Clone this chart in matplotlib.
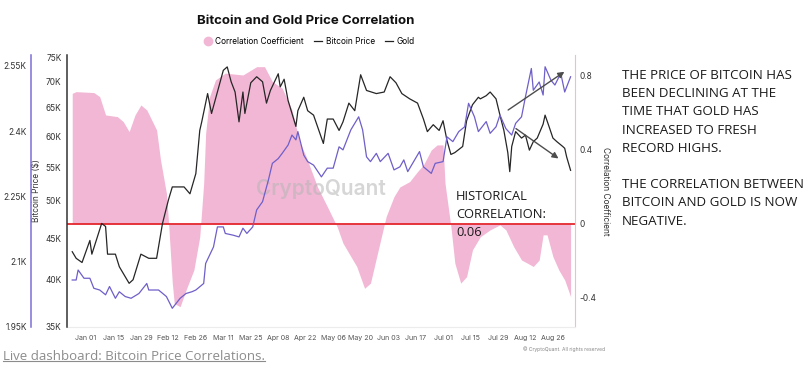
import matplotlib
matplotlib.use("Agg")
import matplotlib.pyplot as plt
import pandas as pd
from matplotlib.lines import Line2D
from matplotlib.ticker import FixedLocator, FuncFormatter, NullLocator
import matplotlib.dates as mdates

# Bitcoin price ($)
btc_dates = ["2023-12-25", "2023-12-27", "2023-12-30", "2024-01-03", "2024-01-04", "2024-01-09",
             "2024-01-11", "2024-01-12", "2024-01-16", "2024-01-18", "2024-01-23", "2024-01-25",
             "2024-01-29", "2024-02-02", "2024-02-06", "2024-02-09", "2024-02-12", "2024-02-14",
             "2024-02-20", "2024-02-23", "2024-02-26", "2024-02-28", "2024-02-29", "2024-03-03",
             "2024-03-05", "2024-03-11", "2024-03-13", "2024-03-15", "2024-03-17", "2024-03-19",
             "2024-03-21", "2024-03-22", "2024-03-25", "2024-03-28", "2024-03-31", "2024-04-02",
             "2024-04-04", "2024-04-08", "2024-04-09", "2024-04-11", "2024-04-13", "2024-04-17",
             "2024-04-18", "2024-04-21", "2024-04-23", "2024-04-26", "2024-05-01", "2024-05-03",
             "2024-05-06", "2024-05-09", "2024-05-11", "2024-05-14", "2024-05-17", "2024-05-20",
             "2024-05-23", "2024-05-28", "2024-06-01", "2024-06-04", "2024-06-07", "2024-06-10",
             "2024-06-14", "2024-06-18", "2024-06-21", "2024-06-23", "2024-06-26", "2024-06-29",
             "2024-07-01", "2024-07-03", "2024-07-05", "2024-07-07", "2024-07-11", "2024-07-13",
             "2024-07-16", "2024-07-19", "2024-07-20", "2024-07-23", "2024-07-25", "2024-07-28",
             "2024-07-30", "2024-08-01", "2024-08-03", "2024-08-04", "2024-08-05", "2024-08-07",
             "2024-08-10", "2024-08-12", "2024-08-14", "2024-08-16", "2024-08-18", "2024-08-21",
             "2024-08-22", "2024-08-24", "2024-08-26", "2024-08-28", "2024-08-31", "2024-09-01",
             "2024-09-02", "2024-09-04"]
btc_price = [43300, 42500, 42000, 44700, 43000, 46900,
             46500, 43000, 43000, 41500, 39600, 40000,
             43000, 42500, 42500, 46900, 50100, 52000,
             52000, 51000, 54000, 61000, 62500, 67700,
             64000, 72300, 73000, 70000, 68000, 62500,
             68000, 64000, 69800, 71000, 70000, 65900,
             68300, 71600, 69000, 70500, 66400, 61700,
             64500, 67000, 64500, 63700, 58800, 63000,
             63000, 61000, 62500, 65900, 64500, 71400,
             68300, 67700, 68000, 71000, 69800, 67700,
             66700, 65900, 63000, 60800, 62000, 61000,
             62700, 59300, 57000, 57300, 58300, 62700,
             65600, 67000, 66700, 67300, 68000, 66700,
             63700, 61000, 57300, 54300, 58300, 60800,
             59700, 60200, 57700, 59100, 59700, 62100,
             63700, 61700, 59700, 59100, 58300, 58000,
             56600, 54500]

# Gold price ($)
gold_dates = ["2023-12-25", "2023-12-27", "2023-12-28", "2023-12-31", "2024-01-03", "2024-01-05",
              "2024-01-08", "2024-01-11", "2024-01-13", "2024-01-16", "2024-01-18", "2024-01-21",
              "2024-01-24", "2024-01-28", "2024-02-01", "2024-02-02", "2024-02-07", "2024-02-11",
              "2024-02-14", "2024-02-18", "2024-02-21", "2024-02-24", "2024-02-26", "2024-03-01",
              "2024-03-02", "2024-03-06", "2024-03-08", "2024-03-11", "2024-03-12", "2024-03-16",
              "2024-03-19", "2024-03-21", "2024-03-23", "2024-03-26", "2024-03-28", "2024-03-31",
              "2024-04-03", "2024-04-05", "2024-04-08", "2024-04-10", "2024-04-13", "2024-04-15",
              "2024-04-17", "2024-04-18", "2024-04-21", "2024-04-23", "2024-04-26", "2024-04-30",
              "2024-05-03", "2024-05-06", "2024-05-09", "2024-05-11", "2024-05-15", "2024-05-19",
              "2024-05-21", "2024-05-23", "2024-05-25", "2024-05-28", "2024-05-30", "2024-06-03",
              "2024-06-06", "2024-06-09", "2024-06-11", "2024-06-13", "2024-06-16", "2024-06-19",
              "2024-06-21", "2024-06-25", "2024-06-27", "2024-07-01", "2024-07-03", "2024-07-06",
              "2024-07-09", "2024-07-12", "2024-07-14", "2024-07-17", "2024-07-19", "2024-07-23",
              "2024-07-25", "2024-07-28", "2024-07-30", "2024-08-02", "2024-08-05", "2024-08-07",
              "2024-08-10", "2024-08-12", "2024-08-15", "2024-08-16", "2024-08-19", "2024-08-21",
              "2024-08-22", "2024-08-25", "2024-08-27", "2024-08-30", "2024-09-01", "2024-09-04"]
gold_price = [2058, 2058, 2081, 2062, 2062, 2039,
              2035, 2024, 2043, 2016, 2031, 2020,
              2016, 2027, 2050, 2035, 2035, 2020,
              1993, 2016, 2027, 2031, 2035, 2050,
              2096, 2134, 2180, 2180, 2165, 2161,
              2157, 2177, 2165, 2180, 2219, 2238,
              2288, 2326, 2337, 2349, 2368, 2391,
              2380, 2399, 2345, 2330, 2322, 2295,
              2315, 2315, 2364, 2357, 2403, 2433,
              2403, 2341, 2330, 2349, 2330, 2349,
              2311, 2318, 2334, 2307, 2330, 2353,
              2318, 2303, 2326, 2330, 2387, 2376,
              2399, 2410, 2464, 2433, 2399, 2422,
              2395, 2410, 2437, 2406, 2391, 2418,
              2433, 2479, 2544, 2494, 2513, 2483,
              2548, 2517, 2506, 2533, 2490, 2525]

# Correlation coefficient
corr_dates = ["2023-12-25", "2023-12-27", "2024-01-05", "2024-01-08", "2024-01-11", "2024-01-17",
              "2024-01-20", "2024-01-23", "2024-01-26", "2024-01-29", "2024-02-01", "2024-02-06",
              "2024-02-08", "2024-02-11", "2024-02-12", "2024-02-14", "2024-02-15", "2024-02-18",
              "2024-02-21", "2024-02-25", "2024-02-28", "2024-03-01", "2024-03-02", "2024-03-04",
              "2024-03-07", "2024-03-12", "2024-03-21", "2024-03-28", "2024-04-01", "2024-04-05",
              "2024-04-10", "2024-04-15", "2024-04-19", "2024-04-22", "2024-04-28", "2024-05-03",
              "2024-05-08", "2024-05-11", "2024-05-18", "2024-05-22", "2024-05-25", "2024-05-29",
              "2024-06-02", "2024-06-06", "2024-06-09", "2024-06-14", "2024-06-18", "2024-06-21",
              "2024-06-25", "2024-06-28", "2024-07-01", "2024-07-02", "2024-07-05", "2024-07-07",
              "2024-07-10", "2024-07-13", "2024-07-16", "2024-07-20", "2024-07-25", "2024-07-30",
              "2024-08-02", "2024-08-06", "2024-08-10", "2024-08-13", "2024-08-16", "2024-08-19",
              "2024-08-21", "2024-08-23", "2024-08-26", "2024-08-29", "2024-09-01", "2024-09-04"]
corr_coef = [0.706, 0.715, 0.71, 0.688, 0.589, 0.58,
             0.553, 0.499, 0.589, 0.643, 0.616, 0.508,
             0.346, 0.166, 0.022, -0.32, -0.43, -0.447,
             -0.357, -0.249, -0.069, 0.22, 0.49, 0.688,
             0.778, 0.815, 0.805, 0.85, 0.85, 0.769,
             0.734, 0.616, 0.44, 0.37, 0.2, 0.094,
             -0.015, -0.104, -0.23, -0.348, -0.32, -0.14,
             0.04, 0.148, 0.2, 0.229, 0.283, 0.319,
             0.4, 0.427, 0.427, 0.22, -0.015, -0.212,
             -0.32, -0.285, -0.14, -0.069, -0.032, -0.005,
             -0.032, -0.123, -0.195, -0.212, -0.23, -0.195,
             -0.059, -0.059, -0.177, -0.249, -0.303, -0.393]

historical_corr = 0.06

btc_ticks = [35000, 40000, 45000, 50000, 55000, 60000, 65000, 70000, 75000]
gold_ticks = [1950, 2100, 2250, 2400, 2550]
corr_ticks = [-0.4, 0, 0.4, 0.8]

bd = pd.to_datetime(btc_dates)
gd = pd.to_datetime(gold_dates)
cd = pd.to_datetime(corr_dates)

font = "Inter"
fig = plt.figure(figsize=(8.11, 3.69), dpi=100)
rect = [67 / 811, 1 - 327 / 369, 508 / 811, 272 / 369]
ax_corr = fig.add_axes(rect)
ax = ax_corr.twinx()
ax_gold = ax_corr.twinx()

# correlation (pink area, right axis)
ax_corr.fill_between(cd, corr_coef, 0, color="#f2b7d5", lw=0)
ax_corr.axhline(0, color="#e3262d", lw=1.3)
ax_corr.text(0.5, 0.507, "CryptoQuant", transform=ax_corr.transAxes, ha="center", va="center",
             fontsize=15, color="#b5b5b5", alpha=0.55, fontfamily=font, fontweight="semibold")
ax_corr.set_ylim(-0.557, 0.913)
ax_corr.yaxis.tick_right()
ax_corr.yaxis.set_label_position("right")
ax_corr.yaxis.set_major_locator(FixedLocator(corr_ticks))
ax_corr.yaxis.set_major_formatter(FuncFormatter(lambda v, p: f"{v:g}"))
ax_corr.set_ylabel("Correlation Coefficient", rotation=270, labelpad=10, fontsize=6,
                   color="#333333", fontfamily=font)

# bitcoin price (black, log scale, left)
ax.plot(bd, btc_price, color="#262626", lw=0.9)
ax.set_yscale("log")
ax.set_ylim(35000, 75500)
ax.yaxis.tick_left()
ax.yaxis.set_label_position("left")
ax.yaxis.set_major_locator(FixedLocator(btc_ticks))
ax.yaxis.set_minor_locator(NullLocator())
ax.yaxis.set_major_formatter(FuncFormatter(lambda v, p: f"{int(round(v / 1000))}K"))
ax.set_ylabel("Bitcoin Price ($)", fontsize=6, color="#333333", labelpad=3, fontfamily=font)

# gold price (purple, outer left axis)
ax_gold.plot(gd, gold_price, color="#6e5fc9", lw=0.9)
ax_gold.set_ylim(1950, 2575)
ax_gold.yaxis.tick_left()
ax_gold.yaxis.set_major_locator(FixedLocator(gold_ticks))
ax_gold.yaxis.set_major_formatter(FuncFormatter(lambda v, p: f"{v / 1000:g}K"))
ax_gold.spines["left"].set_position(("outward", 26))

# arrows
ax_gold.annotate("", xy=(pd.Timestamp("2024-09-02"), 2540), xytext=(pd.Timestamp("2024-08-02"), 2445),
                 arrowprops=dict(arrowstyle="-|>", color="#4d4d4d", lw=1.0, mutation_scale=9))
ax.annotate("", xy=(pd.Timestamp("2024-08-30"), 56100), xytext=(pd.Timestamp("2024-08-06"), 61600),
            arrowprops=dict(arrowstyle="-|>", color="#4d4d4d", lw=1.0, mutation_scale=9))

# spines / ticks
for a in (ax_corr, ax, ax_gold):
    for s in a.spines.values():
        s.set_visible(False)
    a.tick_params(axis="y", length=0, labelsize=6, labelcolor="#333333")
    for lab in a.get_yticklabels():
        lab.set_fontfamily(font)
ax_corr.spines["right"].set_visible(True)
ax_corr.spines["right"].set_color("#e9bfd3")
ax_corr.spines["bottom"].set_visible(True)
ax_corr.spines["bottom"].set_color("#ececec")
ax.spines["left"].set_visible(True)
ax.spines["left"].set_color("#333333")
ax.spines["left"].set_linewidth(1.1)
ax_gold.spines["left"].set_visible(True)
ax_gold.spines["left"].set_color("#7b6fd6")
ax_gold.spines["left"].set_linewidth(1.1)
ax.tick_params(axis="y", pad=4)
ax_gold.tick_params(axis="y", pad=3)
ax_corr.tick_params(axis="y", pad=3)

ax_corr.set_xlim(pd.Timestamp("2023-12-22 08:00"), pd.Timestamp("2024-09-06 06:00"))
ax_corr.xaxis.set_major_locator(FixedLocator(mdates.date2num(pd.date_range("2024-01-01", "2024-08-26", freq="14D"))))
ax_corr.xaxis.set_major_formatter(mdates.DateFormatter("%b %d"))
ax_corr.tick_params(axis="x", length=0, labelsize=5.1, labelcolor="#555555", pad=6)
for lab in ax_corr.get_xticklabels():
    lab.set_fontfamily(font)

# title and legend
fig.text(306 / 811, 1 - 21 / 369, "Bitcoin and Gold Price Correlation", ha="center", va="center",
         fontsize=9.5, fontweight="bold", fontfamily=font, color="#111111")
handles = [Line2D([], [], ls="none", marker="o", ms=6, color="#f2b7d5"),
           Line2D([], [], color="#222222", lw=0.9),
           Line2D([], [], color="#222222", lw=0.9)]
fig.legend(handles, ["Correlation Coefficient", "Bitcoin Price", "Gold"], loc="center",
           bbox_to_anchor=(309 / 811, 1 - 41 / 369), ncol=3, frameon=False, handlelength=1.0,
           handletextpad=0.4, columnspacing=1.2, prop={"family": font, "size": 6})

# annotations
fig.text(622 / 811, 1 - 69 / 369,
         "THE PRICE OF BITCOIN HAS\nBEEN DECLINING AT THE\nTIME THAT GOLD HAS\nINCREASED TO FRESH\n"
         "RECORD HIGHS.\n\nTHE CORRELATION BETWEEN\nBITCOIN AND GOLD IS NOW\nNEGATIVE.",
         ha="left", va="top", fontsize=9.6, fontfamily="Open Sans", color="#1a1a1a", linespacing=1.52)
fig.text(456 / 811, 1 - 190 / 369, f"HISTORICAL\nCORRELATION:\n{historical_corr:.2f}",
         ha="left", va="top", fontsize=9.3, fontfamily="Open Sans", color="#1a1a1a", linespacing=1.5)
fig.text(605 / 811, 1 - 349 / 369, "© CryptoQuant. All rights reserved", ha="right", va="center",
         fontsize=3.6, fontfamily=font, color="#888888")

link = fig.text(3 / 811, 1 - 356 / 369, "Live dashboard: Bitcoin Price Correlations.", ha="left",
                va="center", fontsize=9.5, fontfamily="Open Sans", color="#8c8c8c")
fig.canvas.draw()
bb = link.get_window_extent().transformed(fig.transFigure.inverted())
fig.add_artist(Line2D([bb.x0, bb.x1], [bb.y0 + 0.004, bb.y0 + 0.004], transform=fig.transFigure,
                      color="#8c8c8c", lw=0.8))

fig.savefig("out.png", dpi=100)
